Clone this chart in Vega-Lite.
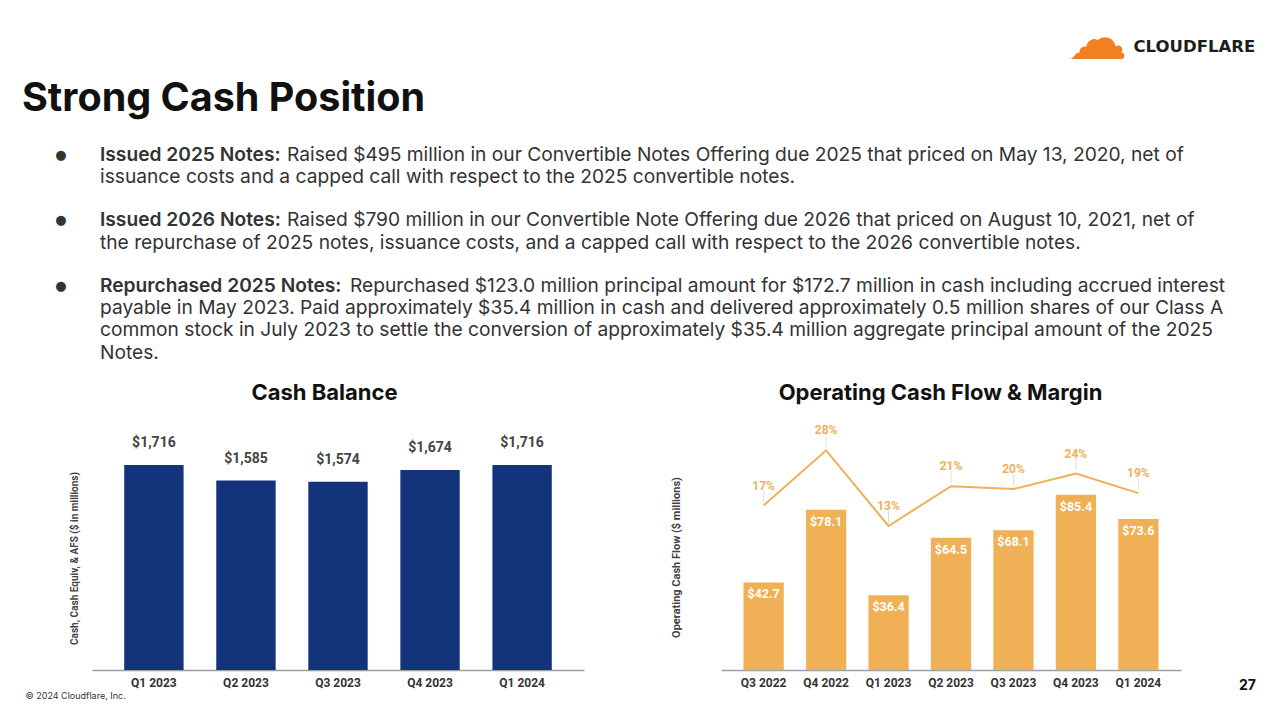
{
  "$schema": "https://vega.github.io/schema/vega-lite/v6.json",
  "width": 1280,
  "height": 670,
  "autosize": {"type": "none"},
  "padding": {"left": 0, "top": 0, "right": 0, "bottom": 34},
  "background": "white",
  "config": {
    "view": {"stroke": null},
    "font": "Roboto",
    "axis": {"grid": false, "labelFont": "Roboto", "titleFont": "Roboto"}
  },
  "datasets": {
    "cash": [
      {"q": "Q1 2023", "cash": 1716},
      {"q": "Q2 2023", "cash": 1585},
      {"q": "Q3 2023", "cash": 1574},
      {"q": "Q4 2023", "cash": 1674},
      {"q": "Q1 2024", "cash": 1716}
    ],
    "ocf": [
      {"q": "Q3 2022", "ocf": 42.7, "margin": 0.1682},
      {"q": "Q4 2022", "ocf": 78.1, "margin": 0.2843},
      {"q": "Q1 2023", "ocf": 36.4, "margin": 0.1254},
      {"q": "Q2 2023", "ocf": 64.5, "margin": 0.2091},
      {"q": "Q3 2023", "ocf": 68.1, "margin": 0.2029},
      {"q": "Q4 2023", "ocf": 85.4, "margin": 0.2356},
      {"q": "Q1 2024", "ocf": 73.6, "margin": 0.1944}
    ],
    "header": [
      {"para": 0, "kind": "title", "part": "title", "label": "Strong Cash Position"},
      {"para": 1, "kind": "bullet", "part": "bullet", "label": "●"},
      {"para": 2, "kind": "bullet", "part": "bullet", "label": "●"},
      {"para": 3, "kind": "bullet", "part": "bullet", "label": "●"},
      {"para": 1, "kind": "text", "part": "bold", "label": "Issued 2025 Notes:"},
      {"para": 2, "kind": "text", "part": "bold", "label": "Issued 2026 Notes:"},
      {"para": 3, "kind": "text", "part": "bold", "label": "Repurchased 2025 Notes:"},
      {"para": 1, "kind": "text", "part": "first", "label": "Raised $495 million in our Convertible Notes Offering due 2025 that priced on May 13, 2020, net of"},
      {"para": 2, "kind": "text", "part": "first", "label": "Raised $790 million in our Convertible Note Offering due 2026 that priced on August 10, 2021, net of"},
      {"para": 3, "kind": "text", "part": "first", "label": "Repurchased $123.0 million principal amount for $172.7 million in cash including accrued interest"},
      {"para": 1, "kind": "text", "part": "rest", "label": "issuance costs and a capped call with respect to the 2025 convertible notes."},
      {"para": 2, "kind": "text", "part": "rest", "label": "the repurchase of 2025 notes, issuance costs, and a capped call with respect to the 2026 convertible notes."},
      {"para": 3, "kind": "text", "part": "rest", "label": "payable in May 2023. Paid approximately $35.4 million in cash and delivered approximately 0.5 million shares of our Class A\ncommon stock in July 2023 to settle the conversion of approximately $35.4 million aggregate principal amount of the 2025\nNotes."}
    ]
  },
  "layer": [
    {
      "data": {"name": "cash"},
      "encoding": {
        "x": {
          "field": "q", "type": "nominal", "sort": null,
          "scale": {"type": "band", "range": [92, 584], "paddingInner": 0.355, "paddingOuter": 0.35},
          "axis": {
            "orient": "bottom", "labelAngle": 0, "ticks": false, "tickSize": 0, "labelPadding": 7,
            "labelFontSize": 12, "labelFontWeight": "bold", "labelColor": "#333333",
            "domainColor": "#9e9e9e", "domainWidth": 1.5,
            "title": "© 2024 Cloudflare, Inc.", "titleX": 25, "titleY": 25, "titleAlign": "left",
            "titleBaseline": "middle", "titleFontSize": 9, "titleFontWeight": "normal", "titleColor": "#333333", "titleFont": "Inter"
          }
        }
      },
      "layer": [
        {
          "mark": {"type": "bar", "color": "#13337a"},
          "encoding": {
            "y": {
              "field": "cash", "type": "quantitative",
              "scale": {"domain": [0, 2008], "range": [670, 430], "nice": false, "zero": true},
              "axis": {
                "orient": "left", "labels": false, "ticks": false, "domain": false,
                "title": "Cash, Cash Equiv, & AFS ($ in millions)", "titleX": 79, "titleY": 558,
                "titleAngle": -90, "titleAlign": "center", "titleBaseline": "bottom",
                "titleFontSize": 10, "titleFontWeight": "bold", "titleColor": "#444444"
              }
            }
          }
        },
        {
          "mark": {"type": "text", "dy": -22, "baseline": "middle", "align": "center", "fontSize": 14, "fontWeight": "bold", "color": "#444444"},
          "encoding": {
            "y": {
              "field": "cash", "type": "quantitative",
              "scale": {"domain": [0, 2008], "range": [670, 430], "nice": false, "zero": true},
              "axis": {
                "orient": "left", "labels": false, "ticks": false, "domain": false,
                "title": "Cash Balance", "titleX": 324, "titleY": 392, "titleAngle": 0,
                "titleAlign": "center", "titleBaseline": "middle",
                "titleFontSize": 22, "titleFontWeight": "bold", "titleColor": "#111111", "titleFont": "Inter"
              }
            },
            "text": {"field": "cash", "type": "quantitative", "format": "$,.0f"}
          }
        }
      ],
      "resolve": {"scale": {"y": "independent"}}
    },
    {
      "data": {"name": "ocf"},
      "encoding": {
        "x": {
          "field": "q", "type": "nominal", "sort": null,
          "scale": {"type": "band", "range": [721, 1181], "paddingInner": 0.355, "paddingOuter": 0.36},
          "axis": {
            "orient": "bottom", "labelAngle": 0, "ticks": false, "tickSize": 0, "labelPadding": 7,
            "labelFontSize": 12, "labelFontWeight": "bold", "labelColor": "#333333",
            "domainColor": "#9e9e9e", "domainWidth": 1.5,
            "title": "27", "titleX": 1247, "titleY": 15, "titleAlign": "center",
            "titleBaseline": "middle", "titleFontSize": 14, "titleFontWeight": "bold", "titleColor": "#111111", "titleFont": "Inter"
          }
        }
      },
      "layer": [
        {
          "encoding": {
            "y": {
              "field": "ocf", "type": "quantitative",
              "scale": {"domain": [0, 117], "range": [670, 430], "nice": false, "zero": true},
              "axis": {
                "orient": "left", "labels": false, "ticks": false, "domain": false,
                "title": "Operating Cash Flow ($ millions)", "titleX": 681, "titleY": 557,
                "titleAngle": -90, "titleAlign": "center", "titleBaseline": "bottom",
                "titleFontSize": 11, "titleFontWeight": "bold", "titleColor": "#444444"
              }
            }
          },
          "layer": [
            {"mark": {"type": "bar", "color": "#f0b055"}},
            {
              "mark": {"type": "text", "dy": 12, "baseline": "middle", "align": "center", "fontSize": 12.5, "fontWeight": "bold", "color": "#ffffff"},
              "encoding": {"text": {"field": "ocf", "type": "quantitative", "format": "$.1f"}}
            }
          ]
        },
        {
          "encoding": {
            "y": {
              "field": "margin", "type": "quantitative",
              "scale": {"domain": [-0.177, 0.327], "range": [670, 430], "nice": false, "zero": false},
              "axis": {
                "orient": "left", "labels": false, "ticks": false, "domain": false,
                "title": "Operating Cash Flow & Margin", "titleX": 940, "titleY": 392, "titleAngle": 0,
                "titleAlign": "center", "titleBaseline": "middle",
                "titleFontSize": 22, "titleFontWeight": "bold", "titleColor": "#111111", "titleFont": "Inter"
              }
            }
          },
          "layer": [
            {
              "mark": {"type": "rule", "color": "#dddddd", "strokeWidth": 1, "yOffset": -3, "y2Offset": -15},
              "encoding": {"y2": {"field": "margin"}}
            },
            {"mark": {"type": "line", "color": "#eeb05a", "strokeWidth": 2}},
            {
              "mark": {"type": "text", "dy": -20, "baseline": "middle", "align": "center", "fontSize": 12, "fontWeight": "bold", "color": "#eeb05a"},
              "encoding": {"text": {"field": "margin", "type": "quantitative", "format": ".0%"}}
            }
          ],
          "resolve": {"scale": {"y": "shared"}}
        }
      ],
      "resolve": {"scale": {"y": "independent"}}
    },
    {
      "data": {"name": "header"},
      "encoding": {
        "x": {
          "field": "kind", "type": "nominal",
          "scale": {"type": "point", "domain": ["title", "bullet", "text"], "range": [22, 100], "padding": 0},
          "axis": {
            "orient": "top", "labels": false, "ticks": false, "domain": false,
            "title": "CLOUDFLARE", "titleX": 1133, "titleY": 46, "titleAlign": "left", "titleBaseline": "middle",
            "titleFont": "DejaVu Sans", "titleFontSize": 16.5, "titleFontWeight": "bold", "titleColor": "#1d1d1b"
          }
        },
        "y": {
          "field": "para", "type": "quantitative",
          "scale": {"domain": [1, 3], "range": [155, 285.7], "nice": false, "zero": false},
          "axis": {
            "orient": "left", "labels": false, "ticks": false, "domain": false,
            "title": "☁", "titleX": 1097, "titleY": 40, "titleAngle": 0, "titleAlign": "center", "titleBaseline": "middle",
            "titleFont": "DejaVu Sans", "titleFontSize": 60, "titleFontWeight": "normal", "titleColor": "#f38020"
          }
        },
        "text": {"field": "label", "type": "nominal"}
      },
      "layer": [
        {
          "transform": [{"filter": "datum.part === 'title'"}],
          "mark": {"type": "text", "align": "left", "baseline": "middle", "dy": 9, "font": "Inter", "fontSize": 39.5, "fontWeight": "bold", "color": "#111111"}
        },
        {
          "transform": [{"filter": "datum.part === 'bullet'"}],
          "mark": {"type": "text", "align": "center", "baseline": "middle", "font": "DejaVu Sans", "fontSize": 13, "color": "#333333"}
        },
        {
          "transform": [{"filter": "datum.part === 'bold'"}],
          "mark": {"type": "text", "align": "left", "baseline": "middle", "font": "Inter", "fontSize": 19.2, "fontWeight": 600, "color": "#333333"}
        },
        {
          "transform": [{"filter": "datum.part === 'first' && datum.para < 3"}],
          "mark": {"type": "text", "align": "left", "baseline": "middle", "dx": 187, "font": "Inter", "fontSize": 19.2, "color": "#333333"}
        },
        {
          "transform": [{"filter": "datum.part === 'first' && datum.para === 3"}],
          "mark": {"type": "text", "align": "left", "baseline": "middle", "dx": 250, "font": "Inter", "fontSize": 19.2, "color": "#333333"}
        },
        {
          "transform": [{"filter": "datum.part === 'rest'"}],
          "mark": {"type": "text", "align": "left", "baseline": "middle", "dy": 22.3, "lineHeight": 22.3, "lineBreak": "\n", "font": "Inter", "fontSize": 19.2, "color": "#333333"}
        }
      ]
    }
  ],
  "resolve": {"scale": {"x": "independent", "y": "independent"}}
}
